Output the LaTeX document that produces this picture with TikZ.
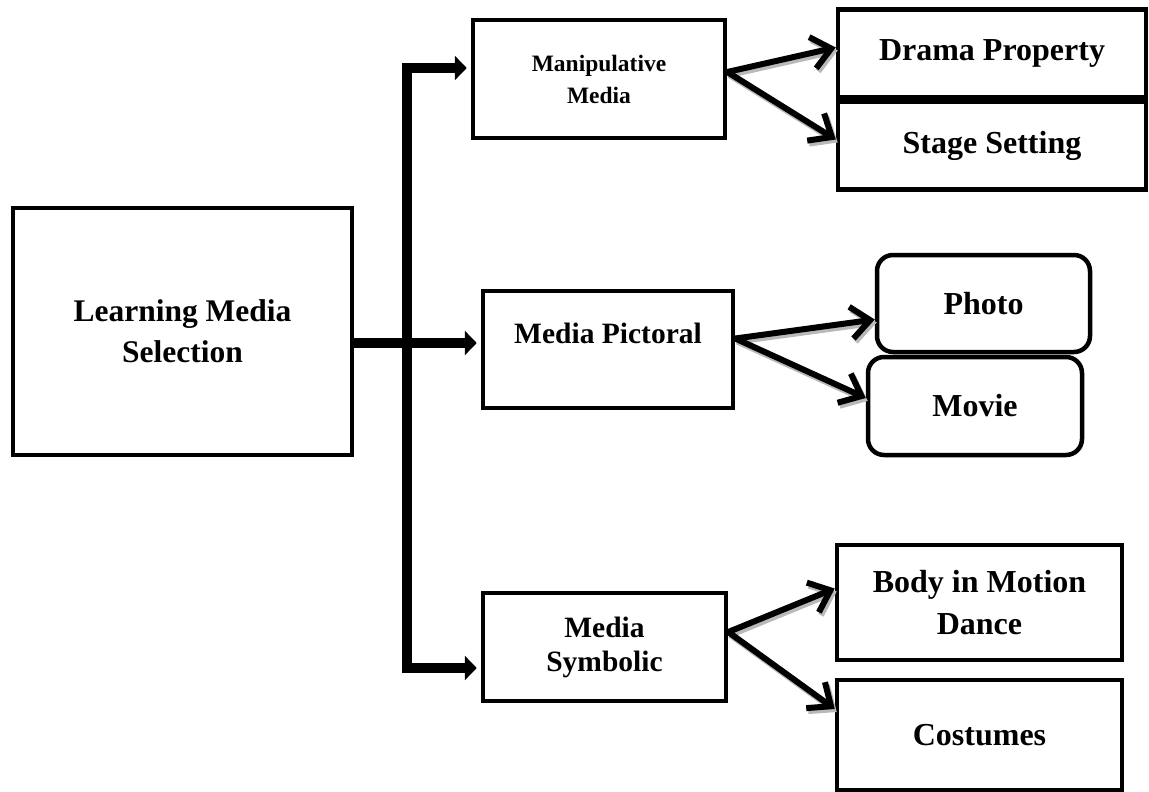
\documentclass[tikz,border=0pt]{standalone}
\usepackage{fontspec}
\setmainfont{Liberation Serif}
\usetikzlibrary{arrows.meta}

\begin{document}
\begin{tikzpicture}[x=1pt,y=-1pt,
    box/.style={draw,line width=4.5pt,inner sep=0pt,align=center,
      font=\bfseries\fontsize{32}{42}\selectfont},
    rbox/.style={box,rounded corners=16pt},
    trunk/.style={line width=10pt,-{Triangle[length=12pt,width=24pt]},shorten >=4pt},
    link/.style={line width=6pt,-{Straight Barb[length=19pt,width=32pt,line width=6pt]}},
    linkshade/.style={link,draw=gray!55,transform canvas={shift={(2pt,-3pt)}}}]
  \useasboundingbox (0,0) rectangle (1149,792);

  % boxes
  \node[box,minimum width=339,minimum height=247,font=\bfseries\fontsize{31.5}{41}\selectfont]
    (learn) at (182.5,331.5) {Learning Media\\Selection};
  \node[box,minimum width=252,minimum height=118,font=\bfseries\fontsize{23.5}{32}\selectfont]
    (manip) at (599,79) {Manipulative\\Media};
  \node[box,minimum width=250,minimum height=117,font=\bfseries\fontsize{29.5}{36}\selectfont,
    text height=20pt,text depth=33pt] (pict) at (608,349.5) {Media Pictoral};
  \node[box,minimum width=243,minimum height=108,font=\bfseries\fontsize{29.5}{34}\selectfont]
    (symb) at (604.5,647) {Media\\Symbolic};

  \node[box,minimum width=308,minimum height=88] (drama) at (992,53.5) {Drama Property};
  \node[box,minimum width=308,minimum height=88] (stage) at (992,145.5) {Stage Setting};
  \node[rbox,minimum width=213,minimum height=97] (photo) at (983.5,303.5) {Photo};
  \node[rbox,minimum width=214,minimum height=98] (movie) at (975,406) {Movie};
  \node[box,minimum width=285,minimum height=115] (body) at (979.5,602.5) {Body in Motion\\Dance};
  \node[box,minimum width=285,minimum height=110] (cost) at (979.5,735) {Costumes};

  % thick elbow connectors
  \coordinate (top) at (407,68);
  \coordinate (hub) at (407,343);
  \coordinate (bot) at (407,668);
  \draw[trunk] (bot) -- (top) -- (top -| manip.west);
  \draw[trunk] (top) -- (bot) -- (bot -| symb.west);
  \draw[trunk] (learn.east |- hub) -- (hub -| pict.west);

  % branches, grey shadow first
  \foreach \src/\sy/\dst/\dy in {manip/7/drama/6,manip/7/stage/6,pict/11/photo/-16,
      pict/11/movie/8,symb/15/body/14,symb/15/cost/26}
  {
    \draw[linkshade] ([yshift=\sy pt]\src.east) -- ([yshift=\dy pt]\dst.west);
    \draw[link] ([yshift=\sy pt]\src.east) -- ([yshift=\dy pt]\dst.west);
  }
\end{tikzpicture}
\end{document}
